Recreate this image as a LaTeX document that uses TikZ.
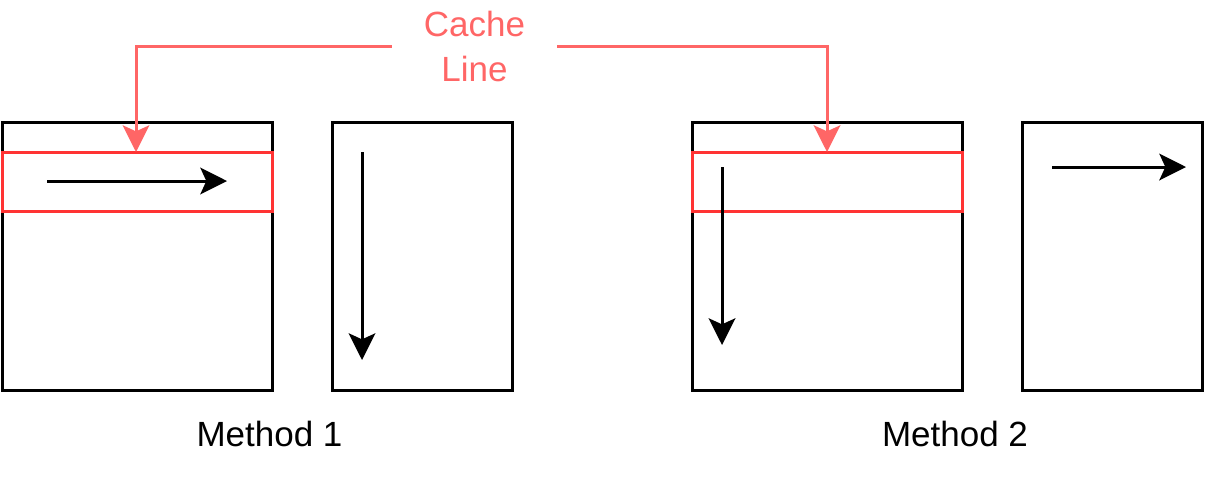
\documentclass[tikz,border=0pt]{standalone}
\usepackage{fontspec}
\setmainfont{Liberation Sans}
\usetikzlibrary{arrows.meta}
\definecolor{cacheRed}{HTML}{FF3333}
\definecolor{labelRed}{HTML}{FF6666}
\begin{document}
\begin{tikzpicture}[x=0.75pt,y=-0.75pt,
  box/.style={draw=black, line width=2.25pt, anchor=north west, inner sep=0pt, outer sep=0pt},
  cacherow/.style={draw=cacheRed, line width=2.25pt, anchor=north west, inner sep=0pt, outer sep=0pt, minimum width=202.5pt, minimum height=44.25pt},
  walk/.style={draw=black, line width=2.25pt, -{Stealth[length=20pt, width=20pt, inset=4.5pt]}},
  pointer/.style={draw=labelRed, line width=2.25pt, -{Stealth[length=20pt, width=20pt, inset=4.5pt]}},
  lbl/.style={font=\fontsize{26.25pt}{33.75pt}\selectfont}
]
\useasboundingbox (0,0) rectangle (1212,480);

% Method 1
\node[box, minimum width=202.5pt, minimum height=201pt] (A) at (2,122) {};
\node[box, minimum width=135pt, minimum height=201pt] (B) at (332,122) {};
\node[cacherow] (rA) at (2,152) {};
% Method 2
\node[box, minimum width=202.5pt, minimum height=201pt] (C) at (692,122) {};
\node[box, minimum width=135pt, minimum height=201pt] (D) at (1022,122) {};
\node[cacherow] (rC) at (692,152) {};

% access arrows
\coordinate (a1) at (47,181);  \coordinate (a2) at (227,181);
\coordinate (b1) at (362,152); \coordinate (b2) at (362,360);
\coordinate (c1) at (722,167); \coordinate (c2) at (722,345);
\coordinate (d1) at (1052,167); \coordinate (d2) at (1186,167);
\draw[walk] (a1) -- (a2);
\draw[walk] (b1) -- (b2);
\draw[walk] (c1) -- (c2);
\draw[walk] (d1) -- (d2);

% cache line label
\node[lbl, text=labelRed, align=center, inner xsep=24pt, inner ysep=0pt] (cl) at (474.5,46) {Cache\\Line};
\coordinate (tA) at (136,152);
\coordinate (tC) at (827,152);
\draw[pointer] (cl.west) -| (tA);
\draw[pointer] (cl.east) -| (tC);

% captions
\node[lbl, anchor=base, inner sep=0pt] (m1) at (269.5,446) {Method 1};
\node[lbl, anchor=base, inner sep=0pt] (m2) at (955,446) {Method 2};
\end{tikzpicture}
\end{document}
